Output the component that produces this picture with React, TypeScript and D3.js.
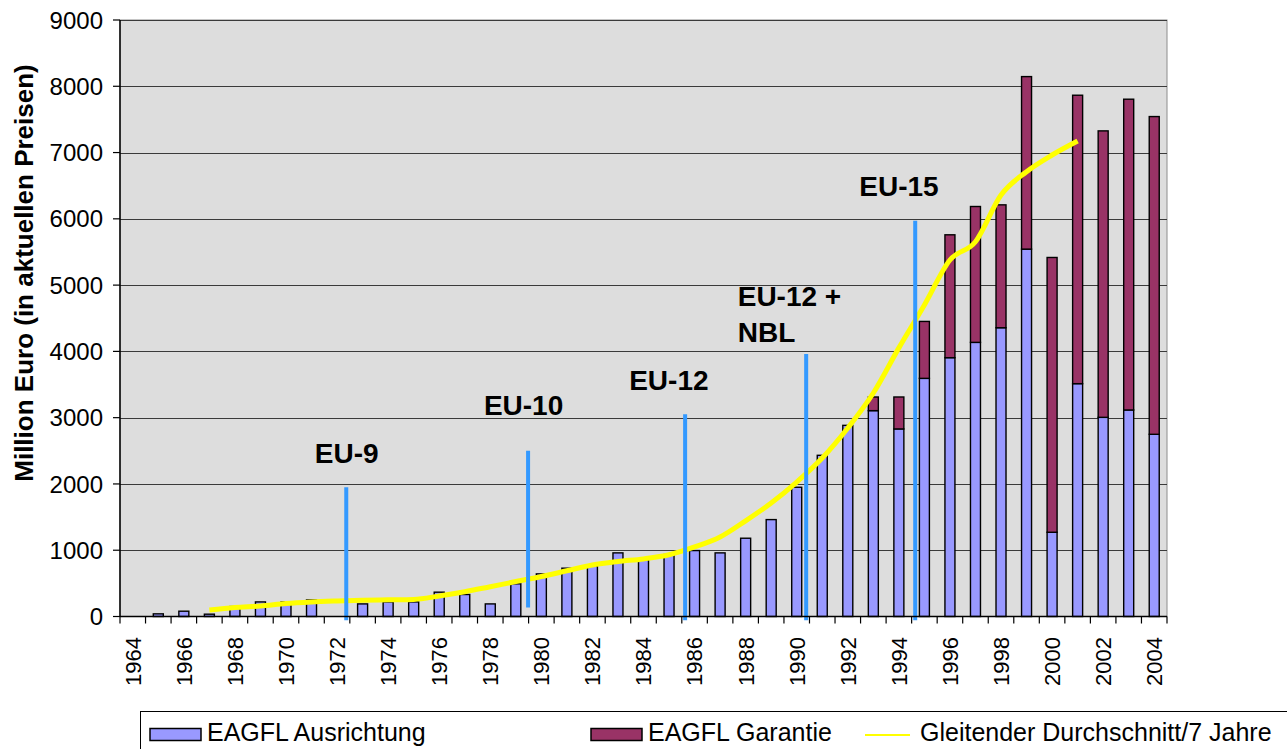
import React, { useEffect, useRef } from 'react';
import * as d3 from 'd3';

// categories: one bar per year
const years = [
  1964, 1965, 1966, 1967, 1968, 1969, 1970, 1971, 1972, 1973, 1974, 1975, 1976, 1977,
  1978, 1979, 1980, 1981, 1982, 1983, 1984, 1985, 1986, 1987, 1988, 1989, 1990, 1991,
  1992, 1993, 1994, 1995, 1996, 1997, 1998, 1999, 2000, 2001, 2002, 2003, 2004,
];

// EAGFL Ausrichtung (lower, blue part)
const ausrichtung = [
  0, 40, 80, 35, 150, 220, 220, 250, 0, 190, 220, 220, 367, 332,
  190, 493, 643, 729, 759, 960, 859, 935, 995, 960, 1181, 1462, 1950, 2432,
  2884, 3106, 2830, 3593, 3905, 4136, 4357, 5543, 1271, 3513, 3005, 3116, 2749,
];

// EAGFL Garantie (upper, maroon part)
const garantie = [
  0, 0, 0, 0, 0, 0, 0, 0, 0, 0, 0, 0, 0, 0,
  0, 0, 0, 0, 0, 0, 0, 0, 0, 0, 0, 0, 0, 0,
  0, 206, 482, 859, 1854, 2050, 1854, 2603, 4146, 4352, 4322, 4689, 4794,
];

// Gleitender Durchschnitt/7 Jahre, 1967..2001
const maYears = [
  1967, 1968, 1969, 1970, 1971, 1972, 1973, 1974, 1975, 1976, 1977, 1978, 1979, 1980,
  1981, 1982, 1983, 1984, 1985, 1986, 1987, 1988, 1989, 1990, 1991, 1992, 1993, 1994,
  1995, 1996, 1997, 1998, 1999, 2000, 2001,
];
const maValues = [
  98, 136, 158, 196, 219, 234, 246, 252, 258, 310, 374, 450, 527, 603,
  690, 777, 830, 869, 931, 1049, 1200, 1444, 1712, 2029, 2391, 2844, 3372, 4053,
  4700, 5379, 5655, 6359, 6711, 6963, 7174,
];

const yTicks = [0, 1000, 2000, 3000, 4000, 5000, 6000, 7000, 8000, 9000];
const xTickYears = years.filter((y) => y % 2 === 0);

// enlargement markers: position in (fractional) years, line extent in Mio. Euro
const markerLabels = [['EU-9'], ['EU-10'], ['EU-12'], ['EU-12 +', 'NBL'], ['EU-15']];
const markerYear = [1972.86, 1979.98, 1986.13, 1990.87, 1995.14];
const markerTop = [1950, 2500, 3050, 3960, 5970];
const markerBottom = [-55, 135, -55, -55, -55];
const labelYear = [1971.63, 1978.25, 1983.94, 1988.19, 1992.95];
const labelValue = [2323, 3040, 3417, 4689, 6344];

const FONT = '"Liberation Sans", Arial, sans-serif';
const W = 1287;
const H = 749;

export default function App() {
  const svgRef = useRef<SVGSVGElement>(null);

  useEffect(() => {
    if (!svgRef.current) return;
    const svg = d3.select(svgRef.current);
    svg.selectAll('*').remove();

    const left = 120;
    const right = 1167;
    const top = 20;
    const bottom = 616.5;

    const x = d3.scaleBand<number>().domain(years).range([left, right]).padding(0);
    const xCont = d3.scaleLinear().domain([1964, 2005]).range([left, right]);
    const y = d3.scaleLinear().domain([0, 9000]).range([bottom, top]);
    const bw = x.bandwidth();
    const barW = 10;

    // plot area
    svg.append('rect')
      .attr('x', left).attr('y', top)
      .attr('width', right - left).attr('height', bottom - top)
      .attr('fill', '#dddddd')
      .attr('stroke', '#8c8c8c')
      .attr('stroke-width', 1);

    // gridlines
    svg.append('g')
      .selectAll('line')
      .data(yTicks.filter((t) => t > 0))
      .join('line')
      .attr('x1', left).attr('x2', right)
      .attr('y1', (d) => Math.round(y(d)) + 0.5)
      .attr('y2', (d) => Math.round(y(d)) + 0.5)
      .attr('stroke', '#3a3a3a')
      .attr('stroke-width', 1);

    // stacked bars
    const stacked = years.map((yr, i) => ({ yr, a: ausrichtung[i], g: garantie[i] }));
    const bars = svg.append('g');
    bars.selectAll('rect.a')
      .data(stacked.filter((d) => d.a > 0))
      .join('rect')
      .attr('class', 'a')
      .attr('x', (d) => (x(d.yr) as number) + (bw - barW) / 2)
      .attr('y', (d) => y(d.a))
      .attr('width', barW)
      .attr('height', (d) => y(0) - y(d.a))
      .attr('fill', '#9999ff')
      .attr('stroke', '#000')
      .attr('stroke-width', 1.4);
    bars.selectAll('rect.g')
      .data(stacked.filter((d) => d.g > 0))
      .join('rect')
      .attr('class', 'g')
      .attr('x', (d) => (x(d.yr) as number) + (bw - barW) / 2)
      .attr('y', (d) => y(d.a + d.g))
      .attr('width', barW)
      .attr('height', (d) => y(d.a) - y(d.a + d.g))
      .attr('fill', '#993366')
      .attr('stroke', '#000')
      .attr('stroke-width', 1.4);

    // moving average
    const line = d3.line<number>()
      .x((_, i) => (x(maYears[i]) as number) + bw / 2)
      .y((d) => y(d))
      .curve(d3.curveMonotoneX);
    svg.append('path')
      .datum(maValues)
      .attr('d', line)
      .attr('fill', 'none')
      .attr('stroke', '#ffff00')
      .attr('stroke-width', 5);

    // enlargement markers
    svg.append('g')
      .selectAll('line')
      .data(markerYear)
      .join('line')
      .attr('x1', (d) => xCont(d)).attr('x2', (d) => xCont(d))
      .attr('y1', (_, i) => y(markerTop[i]))
      .attr('y2', (_, i) => y(markerBottom[i]))
      .attr('stroke', '#3399ff')
      .attr('stroke-width', 4);

    const labels = svg.append('g')
      .attr('font-family', FONT)
      .attr('font-size', 28)
      .attr('font-weight', 'bold')
      .attr('fill', '#000');
    markerLabels.forEach((rows, i) => {
      rows.forEach((row, j) => {
        labels.append('text')
          .attr('x', xCont(labelYear[i]))
          .attr('y', y(labelValue[i]) + j * 36)
          .text(row);
      });
    });

    // y axis
    const yAxis = svg.append('g').attr('font-family', FONT);
    yAxis.append('line')
      .attr('x1', left).attr('x2', left)
      .attr('y1', top).attr('y2', bottom)
      .attr('stroke', '#000').attr('stroke-width', 1.5);
    yAxis.selectAll('line.tick')
      .data(yTicks)
      .join('line')
      .attr('class', 'tick')
      .attr('x1', left - 7).attr('x2', left)
      .attr('y1', (d) => y(d)).attr('y2', (d) => y(d))
      .attr('stroke', '#000').attr('stroke-width', 1.2);
    yAxis.selectAll('text')
      .data(yTicks)
      .join('text')
      .attr('x', 103)
      .attr('y', (d) => y(d))
      .attr('dy', '0.36em')
      .attr('text-anchor', 'end')
      .attr('font-size', 24)
      .text((d) => d);

    svg.append('text')
      .attr('transform', `translate(33, ${273}) rotate(-90)`)
      .attr('text-anchor', 'middle')
      .attr('font-family', FONT)
      .attr('font-size', 26)
      .attr('font-weight', 'bold')
      .text('Million Euro (in aktuellen Preisen)');

    // x axis
    const xAxis = svg.append('g').attr('font-family', FONT);
    xAxis.append('line')
      .attr('x1', left).attr('x2', right)
      .attr('y1', bottom).attr('y2', bottom)
      .attr('stroke', '#000').attr('stroke-width', 1.5);
    xAxis.selectAll('line.tick')
      .data([...years, 2005])
      .join('line')
      .attr('class', 'tick')
      .attr('x1', (d) => xCont(d)).attr('x2', (d) => xCont(d))
      .attr('y1', bottom).attr('y2', bottom + 7)
      .attr('stroke', '#000').attr('stroke-width', 1.2);
    xAxis.selectAll('text')
      .data(xTickYears)
      .join('text')
      .attr('transform', (d) => `translate(${(x(d) as number) + bw / 2}, 637) rotate(-90)`)
      .attr('dy', '0.36em')
      .attr('text-anchor', 'end')
      .attr('font-size', 22)
      .text((d) => d);

    // legend
    const legend = svg.append('g').attr('font-family', FONT).attr('font-size', 25);
    legend.append('rect')
      .attr('x', 140.5).attr('y', 711.5)
      .attr('width', 1300).attr('height', 100)
      .attr('fill', '#fff')
      .attr('stroke', '#000').attr('stroke-width', 1);
    const items = [
      { label: 'EAGFL Ausrichtung', color: '#9999ff', kind: 'box', x: 150 },
      { label: 'EAGFL Garantie', color: '#993366', kind: 'box', x: 591 },
      { label: 'Gleitender Durchschnitt/7 Jahre', color: '#ffff00', kind: 'line', x: 865 },
    ];
    items.forEach((it) => {
      if (it.kind === 'box') {
        legend.append('rect')
          .attr('x', it.x).attr('y', 728.5)
          .attr('width', 51).attr('height', 12)
          .attr('fill', it.color)
          .attr('stroke', '#000').attr('stroke-width', 1.5);
      } else {
        legend.append('line')
          .attr('x1', it.x).attr('x2', it.x + 45)
          .attr('y1', 735).attr('y2', 735)
          .attr('stroke', it.color).attr('stroke-width', 2);
      }
      legend.append('text')
        .attr('x', it.x + (it.kind === 'box' ? 57 : 55))
        .attr('y', 741)
        .text(it.label);
    });
  }, []);

  return (
    <svg
      ref={svgRef}
      width={W}
      height={H}
      style={{ position: 'absolute', left: 0, top: 0, background: '#fff' }}
    />
  );
}
